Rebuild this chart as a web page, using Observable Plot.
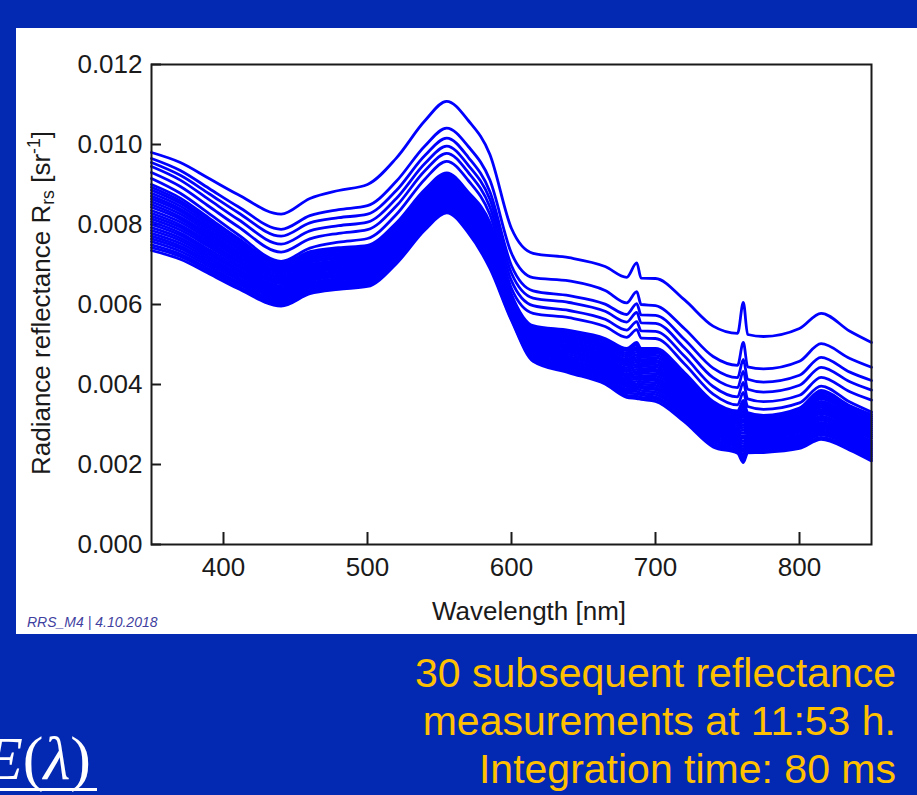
<!DOCTYPE html>
<html>
<head>
<meta charset="utf-8">
<script src="https://cdn.jsdelivr.net/npm/d3@7"></script>
<script src="https://cdn.jsdelivr.net/npm/@observablehq/plot@0.6"></script>
<style>
  html, body { margin: 0; padding: 0; }
  body {
    width: 917px; height: 795px; overflow: hidden; position: relative;
    background: #0329b3;
    font-family: Arial, "Liberation Sans", sans-serif;
  }
  #panel { position: absolute; left: 16px; top: 28px; width: 901px; height: 606px; background: #fff; }
  #chart { position: absolute; left: 0; top: 0; }
  #ylabel {
    position: absolute; left: 26px; top: 275px; white-space: nowrap;
    font-size: 26px; line-height: 1; color: #1a1a1a;
    transform: translate(-50%, -50%) rotate(-90deg);
  }
  #ylabel sub { font-size: 0.68em; vertical-align: -0.25em; }
  #ylabel sup { font-size: 0.68em; vertical-align: 0.55em; }
  #xlabel {
    position: absolute; left: 513px; top: 570px; transform: translateX(-50%);
    white-space: nowrap; font-size: 26px; line-height: 1; color: #1a1a1a;
  }
  #stamp {
    position: absolute; left: 11px; top: 586px; white-space: nowrap;
    font-size: 14px; font-style: italic; color: #3f3f9f;
  }
  #note {
    position: absolute; right: 21px; top: 649px; text-align: right; white-space: nowrap;
    font-size: 41px; line-height: 48px; color: #ffc000;
  }
  #formula {
    position: absolute; right: 826px; top: 727px; white-space: nowrap;
    font-family: "Liberation Serif", "DejaVu Serif", serif; font-size: 62px; line-height: 1; color: #fff;
  }
  #bar { position: absolute; left: 0; top: 788px; width: 97px; height: 3px; background: #fff; }
</style>
</head>
<body>
<div id="panel">
  <div id="chart"></div>
  <div id="ylabel">Radiance reflectance R<sub>rs</sub> [sr<sup>-1</sup>]</div>
  <div id="xlabel">Wavelength [nm]</div>
  <div id="stamp">RRS_M4 | 4.10.2018</div>
</div>
<div id="note">30 subsequent reflectance<br>measurements at 11:53 h.<br>Integration time: 80 ms</div>
<div id="formula"><i>E</i>(<i>λ</i>)</div>
<div id="bar"></div>

<script>
// Remote-sensing reflectance spectra, values in 1e-5 sr^-1
const UNIT = 1e-5;
const wavelength = [350, 370, 390, 410, 440, 460, 480, 500, 520, 540, 555, 570, 585, 600, 615, 640, 665, 680, 687, 690, 700, 720, 740, 757, 761, 764, 775, 800, 815, 835, 850];

const scan01 = [980, 955, 915, 875, 826, 865, 885, 900, 966, 1060, 1108, 1060, 975, 790, 728, 717, 695, 668, 704, 666, 665, 612, 546, 528, 605, 525, 520, 540, 578, 533, 505];
const scan02 = [965, 935, 890, 845, 788, 822, 837, 847, 908, 997, 1041, 995, 911, 728, 667, 659, 635, 604, 632, 600, 597, 540, 470, 448, 505, 444, 439, 458, 502, 465, 443];
const scan03 = [955, 923, 877, 830, 771, 804, 817, 826, 885, 973, 1016, 968, 882, 697, 634, 622, 601, 575, 602, 574, 573, 513, 441, 417, 463, 413, 406, 423, 468, 431, 410];
const scan04 = [945, 911, 862, 813, 751, 784, 797, 806, 865, 953, 996, 948, 863, 678, 616, 605, 583, 556, 580, 554, 553, 492, 417, 392, 433, 388, 381, 398, 443, 407, 386];
const scan05 = [930, 895, 845, 795, 731, 764, 778, 787, 846, 935, 978, 930, 844, 659, 597, 585, 563, 536, 557, 534, 533, 471, 395, 369, 405, 364, 357, 373, 418, 382, 361];
const scan06 = [915, 878, 827, 775, 708, 741, 756, 765, 825, 914, 958, 910, 825, 640, 578, 567, 545, 518, 537, 516, 515, 452, 376, 349, 380, 345, 338, 354, 396, 356, 331];
const scan07 = [900, 866, 816, 766, 703, 732, 742, 748, 804, 888, 929, 881, 805, 625, 547, 535, 515, 490, 505, 490, 490, 430, 358, 334, 360, 330, 323, 341, 385, 347, 325];
const scan08 = [893, 859, 810, 761, 698, 727, 737, 744, 800, 884, 925, 877, 800, 622, 543, 530, 510, 485, 499, 484, 484, 425, 353, 329, 353, 325, 319, 337, 380, 342, 320];
const scan09 = [886, 853, 804, 755, 694, 723, 733, 739, 795, 879, 920, 872, 795, 619, 539, 526, 505, 479, 493, 479, 479, 419, 348, 325, 347, 321, 315, 332, 374, 337, 315];
const scan10 = [878, 846, 798, 750, 689, 718, 728, 735, 791, 875, 916, 868, 790, 617, 535, 521, 500, 474, 487, 473, 473, 414, 343, 320, 340, 316, 311, 328, 369, 333, 310];
const scan11 = [871, 839, 792, 744, 684, 714, 724, 730, 786, 870, 912, 863, 785, 614, 532, 517, 495, 469, 481, 468, 467, 409, 338, 316, 333, 312, 307, 323, 364, 328, 305];
const scan12 = [864, 833, 786, 739, 680, 709, 719, 726, 782, 866, 907, 859, 780, 611, 528, 512, 490, 463, 474, 462, 461, 403, 333, 311, 326, 308, 303, 319, 358, 323, 300];
const scan13 = [857, 826, 780, 733, 675, 705, 715, 721, 777, 862, 903, 854, 775, 608, 524, 507, 485, 458, 468, 457, 456, 398, 328, 306, 320, 303, 299, 315, 353, 318, 295];
const scan14 = [850, 819, 774, 728, 670, 700, 710, 717, 773, 857, 899, 850, 770, 605, 520, 503, 480, 453, 462, 451, 450, 393, 323, 302, 313, 299, 295, 310, 348, 313, 290];
const scan15 = [843, 813, 768, 722, 666, 695, 706, 712, 769, 853, 894, 846, 765, 602, 516, 498, 475, 448, 456, 446, 444, 387, 318, 297, 306, 295, 291, 306, 343, 308, 285];
const scan16 = [835, 806, 762, 717, 661, 691, 701, 708, 764, 848, 890, 841, 760, 600, 512, 493, 470, 442, 450, 440, 438, 382, 313, 292, 299, 290, 287, 301, 337, 304, 280];
const scan17 = [828, 799, 756, 711, 656, 686, 697, 703, 760, 844, 885, 837, 755, 597, 508, 489, 465, 437, 444, 435, 433, 376, 308, 288, 293, 286, 283, 297, 332, 299, 275];
const scan18 = [821, 793, 750, 706, 652, 682, 692, 699, 755, 840, 881, 832, 750, 594, 504, 484, 460, 432, 438, 429, 427, 371, 303, 283, 286, 281, 279, 293, 327, 294, 270];
const scan19 = [814, 786, 744, 700, 647, 677, 688, 694, 751, 835, 877, 828, 745, 591, 501, 480, 455, 426, 432, 423, 421, 366, 298, 279, 279, 277, 275, 288, 321, 289, 265];
const scan20 = [807, 779, 737, 695, 642, 673, 683, 690, 746, 831, 872, 823, 740, 588, 497, 475, 450, 421, 426, 418, 415, 360, 293, 274, 272, 272, 270, 284, 316, 284, 259];
const scan21 = [800, 773, 731, 689, 638, 668, 679, 685, 742, 827, 868, 819, 735, 585, 493, 470, 446, 416, 420, 413, 410, 355, 289, 269, 266, 268, 266, 280, 311, 279, 254];
const scan22 = [792, 766, 725, 684, 633, 663, 674, 681, 738, 822, 864, 815, 730, 583, 489, 466, 441, 410, 414, 407, 404, 350, 284, 265, 259, 264, 262, 275, 305, 275, 249];
const scan23 = [785, 760, 719, 678, 629, 659, 670, 676, 733, 818, 859, 810, 725, 580, 485, 461, 436, 405, 408, 401, 398, 344, 279, 260, 252, 259, 258, 271, 300, 270, 244];
const scan24 = [778, 753, 713, 673, 624, 654, 665, 672, 729, 813, 855, 806, 720, 577, 481, 457, 431, 400, 401, 396, 392, 339, 274, 256, 245, 255, 254, 266, 295, 265, 239];
const scan25 = [771, 746, 707, 667, 619, 650, 661, 667, 724, 809, 851, 801, 715, 574, 477, 452, 426, 395, 395, 391, 387, 334, 269, 251, 239, 251, 250, 262, 290, 260, 234];
const scan26 = [764, 740, 701, 662, 615, 645, 656, 663, 720, 805, 846, 797, 710, 571, 473, 447, 421, 389, 389, 385, 381, 328, 264, 246, 232, 246, 246, 258, 284, 255, 229];
const scan27 = [757, 733, 695, 656, 610, 641, 652, 658, 715, 800, 842, 792, 705, 568, 470, 443, 416, 384, 383, 379, 375, 323, 259, 242, 225, 242, 242, 253, 279, 250, 224];
const scan28 = [749, 726, 689, 651, 605, 636, 647, 654, 711, 796, 838, 788, 700, 566, 466, 438, 411, 379, 377, 374, 369, 318, 254, 237, 218, 237, 238, 249, 274, 246, 219];
const scan29 = [742, 720, 683, 645, 601, 631, 643, 649, 706, 791, 833, 783, 695, 563, 462, 434, 406, 373, 371, 368, 364, 312, 249, 233, 212, 233, 234, 244, 268, 241, 214];
const scan30 = [735, 713, 677, 640, 596, 627, 638, 645, 702, 787, 829, 779, 690, 560, 458, 429, 401, 368, 365, 363, 358, 307, 244, 228, 205, 229, 230, 240, 263, 236, 209];

const scans = [scan01, scan02, scan03, scan04, scan05, scan06, scan07, scan08, scan09, scan10,
               scan11, scan12, scan13, scan14, scan15, scan16, scan17, scan18, scan19, scan20,
               scan21, scan22, scan23, scan24, scan25, scan26, scan27, scan28, scan29, scan30];

const xTicks = [400, 500, 600, 700, 800];
const yTicks = [0, 0.002, 0.004, 0.006, 0.008, 0.010, 0.012];

// long table: one row per (scan, wavelength)
const rows = scans.flatMap((s, i) => s.map((v, j) => ({scan: i + 1, wl: wavelength[j], rrs: v * UNIT})));

const ink = "#1a1a1a";
const chart = Plot.plot({
  width: 901,
  height: 606,
  marginLeft: 135,
  marginRight: 46,
  marginTop: 36,
  marginBottom: 90,
  style: {
    fontFamily: 'Arial, "Liberation Sans", sans-serif',
    fontSize: "26px",
    color: ink,
    background: "transparent",
    overflow: "visible"
  },
  x: {domain: [350, 850]},
  y: {domain: [0, 0.012]},
  marks: [
    // inward tick marks
    Plot.tickX(xTicks, {x: d => d, insetTop: 468, stroke: ink, strokeWidth: 2}),
    Plot.tickY(yTicks, {y: d => d, insetRight: 710, stroke: ink, strokeWidth: 2}),
    // the 30 spectra
    Plot.line(rows, {x: "wl", y: "rrs", z: "scan", stroke: "#0000ff", strokeWidth: 2.8,
                     curve: "monotone-x", strokeLinejoin: "round"}),
    Plot.axisX({ticks: xTicks, tickSize: 0, tickPadding: 13, label: null, fill: ink}),
    Plot.axisY({ticks: yTicks, tickSize: 0, tickPadding: 9, tickFormat: d3.format(".3f"), label: null, fill: ink}),
    Plot.frame({stroke: ink, strokeWidth: 2})
  ]
});
document.getElementById("chart").appendChild(chart);
</script>
</body>
</html>
